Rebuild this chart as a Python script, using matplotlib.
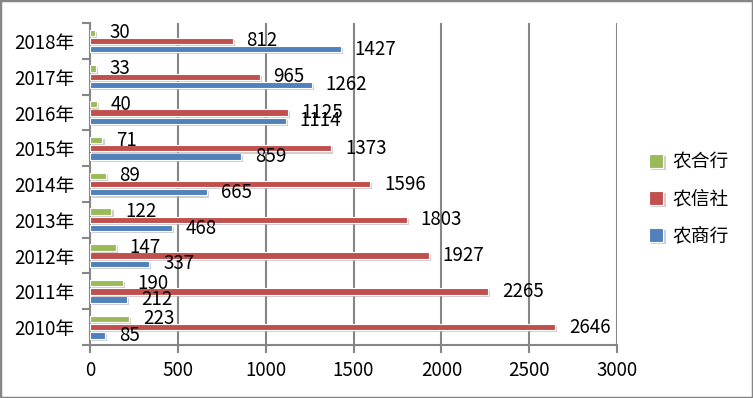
import matplotlib
matplotlib.use("Agg")
import matplotlib.pyplot as plt
import matplotlib.patheffects as pe
from matplotlib.patches import Rectangle
import numpy as np

plt.rcParams['font.family'] = ['Noto Sans CJK SC', 'DejaVu Sans']

years = ['2010年', '2011年', '2012年', '2013年', '2014年', '2015年', '2016年', '2017年', '2018年']
nongshang = [85, 212, 337, 468, 665, 859, 1114, 1262, 1427]      # 农商行
nongxin = [2646, 2265, 1927, 1803, 1596, 1373, 1125, 965, 812]   # 农信社
nonghe = [223, 190, 147, 122, 89, 71, 40, 33, 30]                # 农合行

series = [('农商行', nongshang, '#4F81BD', -0.23),
          ('农信社', nongxin, '#C0504D', 0.0),
          ('农合行', nonghe, '#9BBB59', 0.23)]

fig = plt.figure(figsize=(7.53, 3.98), dpi=100)
ax = fig.add_axes([0.1195, 0.1332, 0.7, 0.8088])
grid_c = '#868686'
fs = 13.5

y = np.arange(len(years))
shadow = [pe.SimplePatchShadow(offset=(1.5, -1.5), shadow_rgbFace='#b0b0b0', alpha=0.6), pe.Normal()]
handles = []
for name, vals, color, off in series:
    bars = ax.barh(y + off, vals, height=0.18, color=color, edgecolor='white',
                   linewidth=0.8, label=name, zorder=3)
    for b in bars:
        b.set_path_effects(shadow)
    handles.append(bars)
    for yi, v in zip(y, vals):
        ax.annotate(str(v), (v, yi + off), xytext=(10, 0), textcoords='offset points',
                    ha='left', va='center', fontsize=fs, zorder=4)

ax.set_xlim(0, 3000)
ax.set_ylim(-0.5, len(years) - 0.5)
ax.set_xticks(np.arange(0, 3001, 500))
ax.set_yticks(y)
ax.set_yticklabels(years, fontsize=fs)
ax.set_yticks(np.arange(-0.5, len(years), 1), minor=True)
ax.tick_params(axis='y', which='major', length=0, pad=11)
ax.tick_params(axis='y', which='minor', length=6, width=1.5, color=grid_c, direction='out')
ax.tick_params(axis='x', length=6, width=1.5, color=grid_c, direction='out', labelsize=fs, pad=5)

ax.grid(axis='x', color=grid_c, linewidth=1.5, zorder=0)
ax.set_axisbelow(True)
for s in ['top', 'right']:
    ax.spines[s].set_visible(False)
for s in ['left', 'bottom']:
    ax.spines[s].set_color(grid_c)
    ax.spines[s].set_linewidth(1.5)

fig.legend(handles[::-1], ['农合行', '农信社', '农商行'], loc='center left',
           bbox_to_anchor=(0.84, 0.5), frameon=False, fontsize=fs,
           handlelength=0.75, handleheight=0.75, handletextpad=0.5, labelspacing=0.85)

fig.patches.append(Rectangle((0, 0), 1, 1, transform=fig.transFigure, fill=False,
                             edgecolor=grid_c, linewidth=2.5))

fig.savefig('out.png', dpi=100)
